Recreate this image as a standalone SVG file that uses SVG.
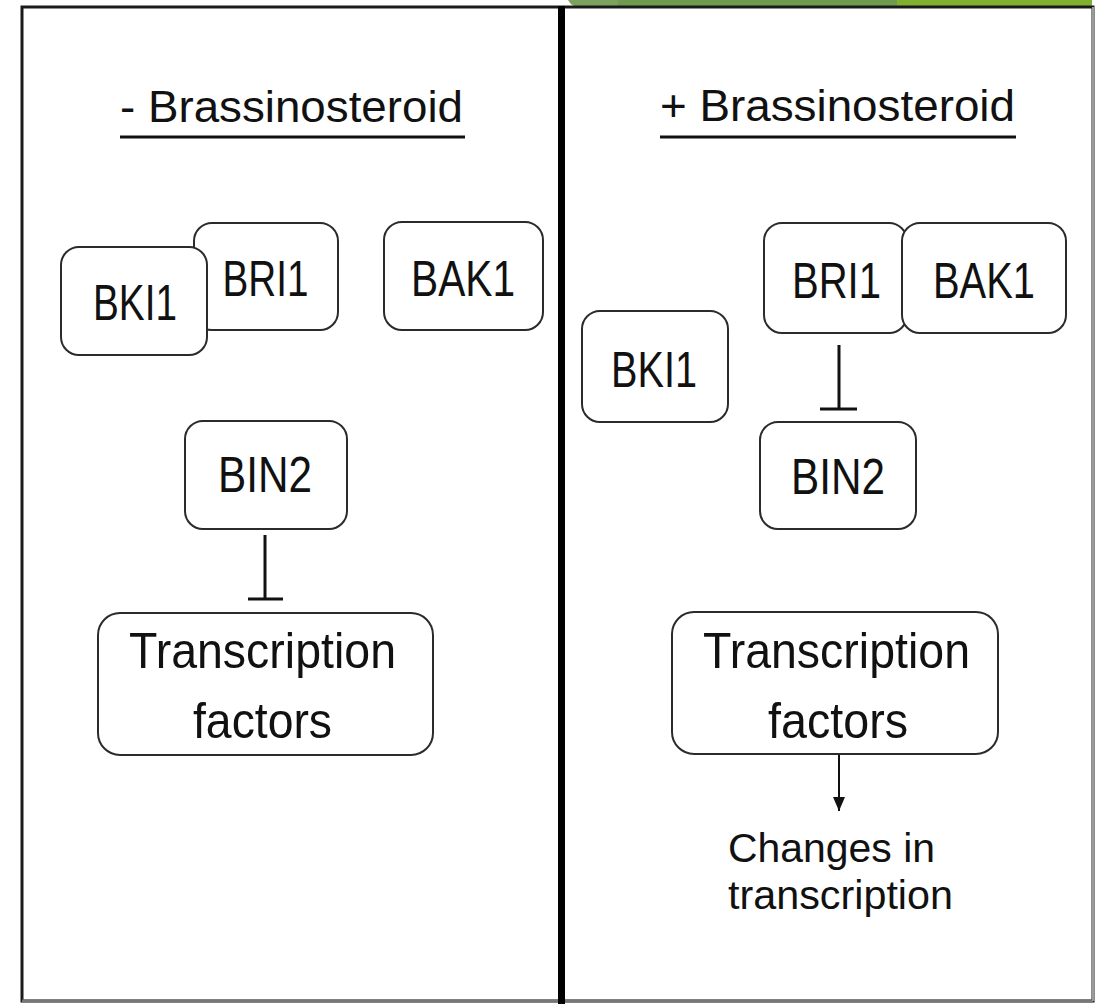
<svg xmlns="http://www.w3.org/2000/svg" width="1096" height="1004" viewBox="0 0 1096 1004">
  <style>
    .node { fill: #ffffff; stroke: #2b2b2b; stroke-width: 2; }
    .lbl { font-family: "Liberation Sans", Arial, sans-serif; font-size: 50px; fill: #111111; text-anchor: middle; }
    .head { font-family: "Liberation Sans", Arial, sans-serif; font-size: 45px; fill: #111111; }
    .small { font-family: "Liberation Sans", Arial, sans-serif; font-size: 40px; fill: #111111; text-anchor: middle; }
    .edge { stroke: #111111; stroke-width: 3; fill: none; }
  </style>
  <defs>
    <marker id="arrow" markerWidth="14" markerHeight="12" refX="14" refY="6" orient="auto" markerUnits="userSpaceOnUse" viewBox="0 0 14 12">
      <path d="M0,0 L14,6 L0,12 Z" fill="#111111"/>
    </marker>
  </defs>

  <!-- background -->
  <rect x="0" y="0" width="1096" height="1004" fill="#ffffff"/>

  <!-- green ribbon along the top edge -->
  <g id="ribbon">
    <path d="M568,0 L618,0 L618,6 L574,6 Q570,4 568,0 Z" fill="#7ba35f"/>
    <rect x="618" y="0" width="279" height="6" fill="#6f9a4f"/>
    <rect x="897" y="0" width="195" height="6" fill="#80b02e"/>
  </g>

  <!-- outer frame and divider -->
  <g id="frame">
    <rect x="22" y="7" width="1071" height="994" fill="none" stroke="#1a1a1a" stroke-width="3"/>
    <line x1="22" y1="1001" x2="1093" y2="1001" stroke="#777777" stroke-width="3"/>
    <line x1="1093" y1="7" x2="1093" y2="1001" stroke="#9a9a9a" stroke-width="2"/>
    <line x1="561.5" y1="6" x2="561.5" y2="1004" stroke="#000000" stroke-width="7"/>
  </g>

  <!-- panel headings -->
  <g id="heading-minus">
    <text class="head" x="120" y="122" textLength="343" lengthAdjust="spacingAndGlyphs">- Brassinosteroid</text>
    <line x1="120" y1="137" x2="465" y2="137" stroke="#111111" stroke-width="3"/>
  </g>
  <g id="heading-plus">
    <text class="head" x="660" y="121" textLength="355" lengthAdjust="spacingAndGlyphs">+ Brassinosteroid</text>
    <line x1="660" y1="137" x2="1016" y2="137" stroke="#111111" stroke-width="3"/>
  </g>

  <!-- connectors -->
  <g id="connectors">
    <!-- left: BIN2 inhibits transcription factors -->
    <line class="edge" x1="265" y1="535" x2="265" y2="599"/>
    <line class="edge" x1="248" y1="599" x2="283" y2="599"/>
    <!-- right: BRI1 inhibits BIN2 -->
    <line class="edge" x1="839" y1="345" x2="839" y2="409"/>
    <line class="edge" x1="820" y1="409" x2="857" y2="409"/>
    <!-- right: transcription factors to changes in transcription -->
    <line x1="839" y1="755" x2="839" y2="811" stroke="#111111" stroke-width="2" marker-end="url(#arrow)"/>
  </g>

  <!-- left panel (no brassinosteroid) -->
  <g id="bri1-left">
    <rect class="node" x="194" y="223" width="144" height="107" rx="18"/>
    <text class="lbl" x="265.5" y="296" textLength="86" lengthAdjust="spacingAndGlyphs">BRI1</text>
  </g>
  <g id="bki1-left">
    <rect class="node" x="61" y="247" width="146" height="108" rx="18"/>
    <text class="lbl" x="135" y="320" textLength="84" lengthAdjust="spacingAndGlyphs">BKI1</text>
  </g>
  <g id="bak1-left">
    <rect class="node" x="384" y="222" width="159" height="108" rx="18"/>
    <text class="lbl" x="463" y="296" textLength="104" lengthAdjust="spacingAndGlyphs">BAK1</text>
  </g>
  <g id="bin2-left">
    <rect class="node" x="185" y="421" width="162" height="108" rx="18"/>
    <text class="lbl" x="265" y="492" textLength="94" lengthAdjust="spacingAndGlyphs">BIN2</text>
  </g>
  <g id="tf-left">
    <rect class="node" x="98" y="613" width="335" height="142" rx="22"/>
    <text class="lbl" x="262.5" y="668" textLength="267" lengthAdjust="spacingAndGlyphs">Transcription</text>
    <text class="lbl" x="262.5" y="738" textLength="139" lengthAdjust="spacingAndGlyphs">factors</text>
  </g>

  <!-- right panel (with brassinosteroid) -->
  <g id="bri1-right">
    <rect class="node" x="764" y="223" width="143" height="110" rx="18"/>
    <text class="lbl" x="836.5" y="298" textLength="89" lengthAdjust="spacingAndGlyphs">BRI1</text>
  </g>
  <g id="bak1-right">
    <rect class="node" x="902" y="223" width="164" height="110" rx="18"/>
    <text class="lbl" x="984" y="298" textLength="102" lengthAdjust="spacingAndGlyphs">BAK1</text>
  </g>
  <g id="bki1-right">
    <rect class="node" x="582" y="311" width="146" height="111" rx="18"/>
    <text class="lbl" x="654" y="387" textLength="86" lengthAdjust="spacingAndGlyphs">BKI1</text>
  </g>
  <g id="bin2-right">
    <rect class="node" x="760" y="422" width="156" height="107" rx="18"/>
    <text class="lbl" x="838" y="494" textLength="94" lengthAdjust="spacingAndGlyphs">BIN2</text>
  </g>
  <g id="tf-right">
    <rect class="node" x="672" y="612" width="326" height="142" rx="22"/>
    <text class="lbl" x="836.5" y="668" textLength="267" lengthAdjust="spacingAndGlyphs">Transcription</text>
    <text class="lbl" x="838" y="738" textLength="140" lengthAdjust="spacingAndGlyphs">factors</text>
  </g>
  <g id="changes">
    <text class="small" x="831.5" y="862" textLength="207" lengthAdjust="spacingAndGlyphs">Changes in</text>
    <text class="small" x="840.5" y="909" textLength="225" lengthAdjust="spacingAndGlyphs">transcription</text>
  </g>
</svg>
